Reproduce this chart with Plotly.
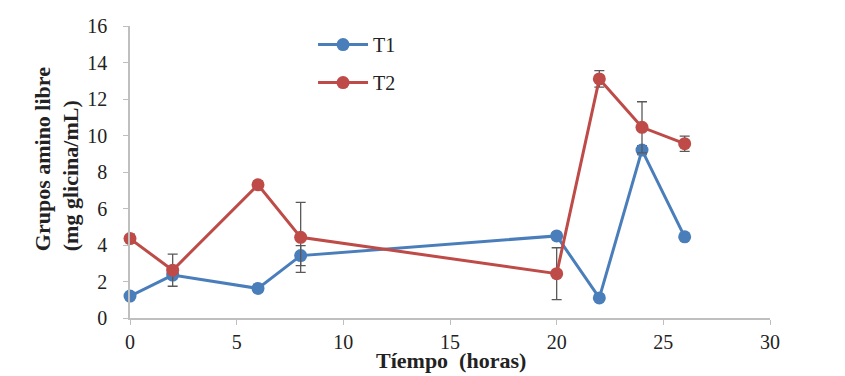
import plotly.graph_objects as go

horas = [0, 2, 6, 8, 20, 22, 24, 26]
t1 = [1.2, 2.35, 1.62, 3.42, 4.5, 1.1, 9.2, 4.45]
t1_err = [0.0, 0.0, 0.22, 0.55, 0.15, 0.0, 0.25, 0.0]
t2 = [4.35, 2.62, 7.3, 4.42, 2.43, 13.1, 10.45, 9.55]
t2_err = [0.25, 0.88, 0.2, 1.92, 1.42, 0.45, 1.4, 0.42]

blue = "#4A7EBB"
red = "#BE4B48"
errc = "#595959"
font_fam = "Liberation Serif"

fig = go.Figure()
fig.add_trace(go.Scatter(
    x=horas, y=t1, name="T1", mode="lines+markers", legendgroup="a",
    line=dict(color=blue, width=3), marker=dict(color=blue, size=13),
    error_y=dict(type="data", array=t1_err, color=errc, thickness=1.3, width=5),
    cliponaxis=False))
fig.add_trace(go.Scatter(
    x=horas, y=t2, name="T2", mode="lines+markers", legendgroup="b",
    line=dict(color=red, width=3), marker=dict(color=red, size=13),
    error_y=dict(type="data", array=t2_err, color=errc, thickness=1.3, width=5),
    cliponaxis=False))

fig.add_annotation(
    text="<b>Grupos amino libre<br>(mg glicina/mL)</b>",
    textangle=-90, align="left", showarrow=False,
    xref="paper", yref="paper", x=-0.114, y=0.222,
    xanchor="center", yanchor="bottom",
    font=dict(family=font_fam, size=22, color="#222"))
fig.add_annotation(
    text="<b>Tíempo  (horas)</b>", showarrow=False,
    xref="paper", yref="paper", x=0.5016, y=-0.144,
    xanchor="center", yanchor="middle",
    font=dict(family=font_fam, size=22, color="#222"))

fig.update_layout(
    width=845, height=376,
    margin=dict(l=122, r=83, t=18, b=66, autoexpand=False),
    paper_bgcolor="white", plot_bgcolor="white",
    font=dict(family=font_fam, size=20, color="#222"),
    showlegend=True,
    legend=dict(x=0.286, y=1.003, xanchor="left", yanchor="top",
                font=dict(size=20, color="#222"), tracegroupgap=9,
                itemwidth=50, bgcolor="rgba(0,0,0,0)"),
    xaxis=dict(range=[0, 30], tickvals=[0, 5, 10, 15, 20, 25, 30],
               showgrid=False, zeroline=False, showline=True, automargin=False,
               linecolor="#BFBFBF", linewidth=1.5,
               ticks="outside", ticklen=5, tickcolor="#BFBFBF",
               tickfont=dict(size=20)),
    yaxis=dict(range=[0, 16], tickvals=list(range(0, 17, 2)),
               showgrid=False, zeroline=False, showline=True, automargin=False,
               linecolor="#BFBFBF", linewidth=1.5,
               ticks="outside", ticklen=5, tickcolor="#BFBFBF",
               ticklabelstandoff=12,
               tickfont=dict(size=20)),
)

fig.write_html("out.html")
